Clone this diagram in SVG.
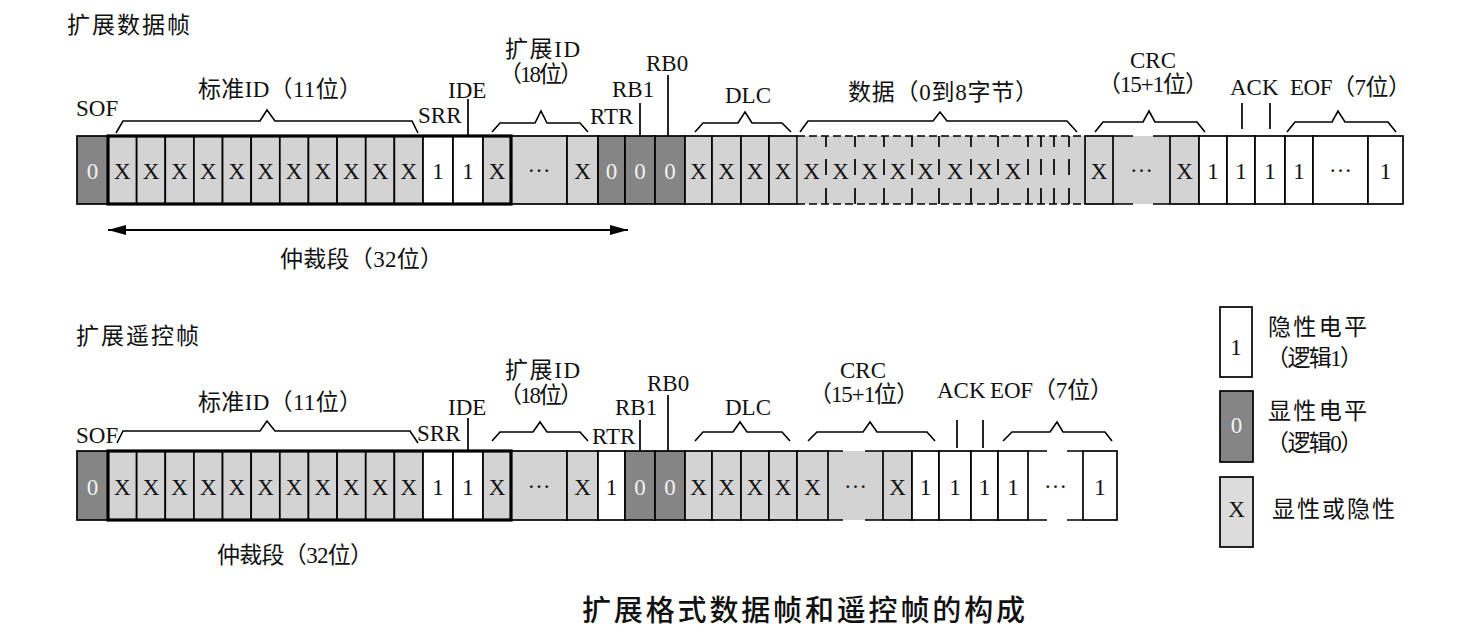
<svg xmlns="http://www.w3.org/2000/svg" width="1475" height="640" viewBox="0 0 1475 640">
<style>
.c{stroke:#000;stroke-width:1.7}
.w{fill:#fff}
.g{fill:#d3d3d3}
.d{fill:#858585}
.nf{stroke:none}
.t{font-family:"Liberation Serif","Noto Sans CJK SC",serif;font-size:23px;fill:#111}
.v{font-family:"Liberation Serif",serif;font-size:23px;fill:#111;text-anchor:middle}
.z{fill:#f2f2f2}
.br{fill:none;stroke:#000;stroke-width:1.6;stroke-linejoin:miter}
.pl{fill:none;stroke:#000;stroke-width:1.7}
.thick{fill:none;stroke:#000;stroke-width:3.2}
.dash{fill:none;stroke:#000;stroke-width:1.7;stroke-dasharray:8,4}
.h{font-family:"Noto Sans CJK SC",sans-serif;fill:#111}
</style>
<defs>
<marker id="ah" markerUnits="userSpaceOnUse" markerWidth="18" markerHeight="10" refX="18" refY="5" orient="auto-start-reverse">
<path d="M0,0 L18,5 L0,10 z" fill="#000"/>
</marker>
</defs>
<rect width="1475" height="640" fill="#fff"/>

<text class="h" x="67" y="33" font-size="23" textLength="123" lengthAdjust="spacing">扩展数据帧</text>
<text class="h" x="76" y="344" font-size="23" textLength="123" lengthAdjust="spacing">扩展遥控帧</text>

<!-- ================= TOP ROW ================= -->
<g id="top-sof"><rect class="c d" x="77" y="136" width="31" height="68"/><text class="v z" x="92.5" y="179">0</text></g>
<g id="top-stdid">
<rect class="c g" x="108" y="136" width="28.64" height="68"/>
<rect class="c g" x="136.64" y="136" width="28.64" height="68"/>
<rect class="c g" x="165.27" y="136" width="28.64" height="68"/>
<rect class="c g" x="193.91" y="136" width="28.64" height="68"/>
<rect class="c g" x="222.55" y="136" width="28.64" height="68"/>
<rect class="c g" x="251.18" y="136" width="28.64" height="68"/>
<rect class="c g" x="279.82" y="136" width="28.64" height="68"/>
<rect class="c g" x="308.45" y="136" width="28.64" height="68"/>
<rect class="c g" x="337.09" y="136" width="28.64" height="68"/>
<rect class="c g" x="365.73" y="136" width="28.64" height="68"/>
<rect class="c g" x="394.36" y="136" width="28.64" height="68"/>
<text class="v" y="179"><tspan x="122.3">X</tspan><tspan x="151">X</tspan><tspan x="179.6">X</tspan><tspan x="208.2">X</tspan><tspan x="236.9">X</tspan><tspan x="265.5">X</tspan><tspan x="294.1">X</tspan><tspan x="322.8">X</tspan><tspan x="351.4">X</tspan><tspan x="380">X</tspan><tspan x="408.7">X</tspan></text>
</g>
<g id="top-srr"><rect class="c w" x="423" y="136" width="30" height="68"/><text class="v" x="438" y="179">1</text></g>
<g id="top-ide"><rect class="c w" x="453" y="136" width="30" height="68"/><text class="v" x="468" y="179">1</text></g>
<g id="top-extid">
<rect class="c g" x="483" y="136" width="28" height="68"/>
<rect class="c g" x="511" y="136" width="56" height="68"/>
<rect class="c g" x="567" y="136" width="31" height="68"/>
<text class="v" x="497" y="179">X</text><text class="v" x="539" y="172">…</text><text class="v" x="582.5" y="179">X</text>
</g>
<g id="top-arb-frame"><rect class="thick" x="108" y="136" width="403" height="68"/></g>
<g id="top-rtr"><rect class="c d" x="598" y="136" width="27" height="68"/><text class="v z" x="611.5" y="179">0</text></g>
<g id="top-rb1"><rect class="c d" x="625" y="136" width="30" height="68"/><text class="v z" x="640" y="179">0</text></g>
<g id="top-rb0"><rect class="c d" x="655" y="136" width="30" height="68"/><text class="v z" x="670" y="179">0</text></g>
<g id="top-dlc">
<rect class="c g" x="685" y="136" width="27" height="68"/>
<rect class="c g" x="712" y="136" width="29" height="68"/>
<rect class="c g" x="741" y="136" width="28" height="68"/>
<rect class="c g" x="769" y="136" width="28" height="68"/>
<text class="v" y="179"><tspan x="698.5">X</tspan><tspan x="726.5">X</tspan><tspan x="755">X</tspan><tspan x="783">X</tspan></text>
</g>
<g id="top-data">
<rect class="g nf" x="797.8" y="136" width="286.4" height="68"/>
<path class="dash" d="M797,136 H1085 M797,204 H1085"/>
<path class="pl" d="M826,136 V147 M826,159 V175 M826,188 V204 M855,136 V147 M855,159 V175 M855,188 V204 M884,136 V147 M884,159 V175 M884,188 V204 M912,136 V147 M912,159 V175 M912,188 V204 M939,136 V147 M939,159 V175 M939,188 V204 M971,136 V147 M971,159 V175 M971,188 V204 M998,136 V147 M998,159 V175 M998,188 V204 M1028,136 V147 M1028,159 V175 M1028,188 V204 M1041,136 V147 M1041,159 V175 M1041,188 V204 M1054,136 V147 M1054,159 V175 M1054,188 V204 M1069,136 V147 M1069,159 V175 M1069,188 V204"/>
<text class="v" y="179"><tspan x="811.5">X</tspan><tspan x="840.5">X</tspan><tspan x="869.5">X</tspan><tspan x="898">X</tspan><tspan x="925.5">X</tspan><tspan x="955">X</tspan><tspan x="984.5">X</tspan><tspan x="1013">X</tspan></text>
</g>
<g id="top-crc">
<rect class="g nf" x="1113" y="136" width="57" height="68"/>
<rect class="c g" x="1085" y="136" width="28" height="68"/>
<rect class="c g" x="1170" y="136" width="29" height="68"/>
<path class="pl" d="M1113,136 H1133 M1153,136 H1170 M1113,204 H1133 M1153,204 H1170"/>
<text class="v" x="1099" y="179">X</text><text class="v" x="1141.5" y="172">…</text><text class="v" x="1184.5" y="179">X</text>
</g>
<g id="top-crcdel"><rect class="c w" x="1199" y="136" width="28" height="68"/><text class="v" x="1213" y="179">1</text></g>
<g id="top-ack"><rect class="c w" x="1227" y="136" width="28" height="68"/><text class="v" x="1241" y="179">1</text></g>
<g id="top-ackdel"><rect class="c w" x="1255" y="136" width="30" height="68"/><text class="v" x="1270" y="179">1</text></g>
<g id="top-eof">
<rect class="c w" x="1285" y="136" width="28" height="68"/>
<rect class="c w" x="1313" y="136" width="55" height="68"/>
<rect class="c w" x="1368" y="136" width="35" height="68"/>
<text class="v" x="1299" y="179">1</text><text class="v" x="1340.5" y="172">…</text><text class="v" x="1385.5" y="179">1</text>
</g>

<!-- ================= BOTTOM ROW ================= -->
<g id="bot-sof"><rect class="c d" x="77" y="451" width="31" height="69"/><text class="v z" x="92.5" y="495">0</text></g>
<g id="bot-stdid">
<rect class="c g" x="108" y="451" width="28.64" height="69"/>
<rect class="c g" x="136.64" y="451" width="28.64" height="69"/>
<rect class="c g" x="165.27" y="451" width="28.64" height="69"/>
<rect class="c g" x="193.91" y="451" width="28.64" height="69"/>
<rect class="c g" x="222.55" y="451" width="28.64" height="69"/>
<rect class="c g" x="251.18" y="451" width="28.64" height="69"/>
<rect class="c g" x="279.82" y="451" width="28.64" height="69"/>
<rect class="c g" x="308.45" y="451" width="28.64" height="69"/>
<rect class="c g" x="337.09" y="451" width="28.64" height="69"/>
<rect class="c g" x="365.73" y="451" width="28.64" height="69"/>
<rect class="c g" x="394.36" y="451" width="28.64" height="69"/>
<text class="v" y="495"><tspan x="122.3">X</tspan><tspan x="151">X</tspan><tspan x="179.6">X</tspan><tspan x="208.2">X</tspan><tspan x="236.9">X</tspan><tspan x="265.5">X</tspan><tspan x="294.1">X</tspan><tspan x="322.8">X</tspan><tspan x="351.4">X</tspan><tspan x="380">X</tspan><tspan x="408.7">X</tspan></text>
</g>
<g id="bot-srr"><rect class="c w" x="423" y="451" width="30" height="69"/><text class="v" x="438" y="495">1</text></g>
<g id="bot-ide"><rect class="c w" x="453" y="451" width="30" height="69"/><text class="v" x="468" y="495">1</text></g>
<g id="bot-extid">
<rect class="c g" x="483" y="451" width="28" height="69"/>
<rect class="c g" x="511" y="451" width="56" height="69"/>
<rect class="c g" x="567" y="451" width="31" height="69"/>
<text class="v" x="497" y="495">X</text><text class="v" x="539" y="488">…</text><text class="v" x="582.5" y="495">X</text>
</g>
<g id="bot-arb-frame"><rect class="thick" x="108" y="451" width="403" height="69"/></g>
<g id="bot-rtr"><rect class="c w" x="598" y="451" width="27" height="69"/><text class="v" x="611.5" y="495">1</text></g>
<g id="bot-rb1"><rect class="c d" x="625" y="451" width="30" height="69"/><text class="v z" x="640" y="495">0</text></g>
<g id="bot-rb0"><rect class="c d" x="655" y="451" width="30" height="69"/><text class="v z" x="670" y="495">0</text></g>
<g id="bot-dlc">
<rect class="c g" x="685" y="451" width="27" height="69"/>
<rect class="c g" x="712" y="451" width="29" height="69"/>
<rect class="c g" x="741" y="451" width="28" height="69"/>
<rect class="c g" x="769" y="451" width="28" height="69"/>
<text class="v" y="495"><tspan x="698.5">X</tspan><tspan x="726.5">X</tspan><tspan x="755">X</tspan><tspan x="783">X</tspan></text>
</g>
<g id="bot-crc">
<rect class="g nf" x="828" y="451" width="55" height="69"/>
<rect class="c g" x="797" y="451" width="31" height="69"/>
<rect class="c g" x="883" y="451" width="29" height="69"/>
<path class="pl" d="M828,451 H843 M865,451 H883 M828,520 H843 M865,520 H883"/>
<text class="v" x="812.5" y="495">X</text><text class="v" x="855.5" y="488">…</text><text class="v" x="897.5" y="495">X</text>
</g>
<g id="bot-crcdel"><rect class="c w" x="912" y="451" width="27" height="69"/><text class="v" x="925.5" y="495">1</text></g>
<g id="bot-ack"><rect class="c w" x="939" y="451" width="32" height="69"/><text class="v" x="955" y="495">1</text></g>
<g id="bot-ackdel"><rect class="c w" x="971" y="451" width="27" height="69"/><text class="v" x="984.5" y="495">1</text></g>
<g id="bot-eof">
<rect class="c w" x="998" y="451" width="30" height="69"/>
<rect class="c w" x="1083" y="451" width="34" height="69"/>
<path class="pl" d="M1028,451 H1047 M1067,451 H1083 M1028,520 H1047 M1067,520 H1083"/>
<text class="v" x="1013" y="495">1</text><text class="v" x="1055.5" y="488">…</text><text class="v" x="1100" y="495">1</text>
</g>

<!-- ================= LEGEND ================= -->
<g id="legend-recessive"><rect class="c w" x="1220" y="307" width="32" height="70"/><text class="v" x="1236" y="355">1</text>
<text class="t" x="1268" y="335" textLength="99" lengthAdjust="spacing">隐性电平</text>
<text class="t" x="1266" y="366" textLength="97" lengthAdjust="spacing">（逻辑1）</text></g>
<g id="legend-dominant"><rect class="c d" x="1220" y="391" width="33" height="71"/><text class="v z" x="1236.5" y="433">0</text>
<text class="t" x="1268" y="419" textLength="99" lengthAdjust="spacing">显性电平</text>
<text class="t" x="1266" y="451" textLength="97" lengthAdjust="spacing">（逻辑0）</text></g>
<g id="legend-either"><rect class="c" fill="#dcdcdc" x="1220" y="477" width="33" height="70"/><text class="v" x="1236.5" y="517">X</text>
<text class="t" x="1272" y="517" textLength="123" lengthAdjust="spacing">显性或隐性</text></g>

<!-- ================= LABELS ================= -->
<g id="labels-top">
<text class="t" x="76" y="116">SOF</text>
<text class="t" x="198" y="97" textLength="164" lengthAdjust="spacing">标准ID（11位）</text>
<text class="t" x="448" y="98">IDE</text>
<text class="t" x="418" y="123">SRR</text>
<text class="t" x="505" y="57" textLength="75" lengthAdjust="spacing">扩展ID</text>
<text class="t" x="499" y="82" textLength="84" lengthAdjust="spacing">（18位）</text>
<text class="t" x="646" y="71">RB0</text>
<text class="t" x="612" y="97">RB1</text>
<text class="t" x="590" y="124">RTR</text>
<text class="t" x="725" y="103">DLC</text>
<text class="t" x="848" y="100" textLength="190" lengthAdjust="spacing">数据（0到8字节）</text>
<text class="t" x="1130" y="68">CRC</text>
<text class="t" x="1098" y="92" textLength="110" lengthAdjust="spacing">（15+1位）</text>
<text class="t" x="1230" y="95">ACK</text>
<text class="t" x="1290" y="95" textLength="121" lengthAdjust="spacing">EOF（7位）</text>
<text class="t" x="280" y="267" textLength="163" lengthAdjust="spacing">仲裁段（32位）</text>
</g>
<g id="labels-bottom">
<text class="t" x="76" y="443">SOF</text>
<text class="t" x="198" y="410" textLength="164" lengthAdjust="spacing">标准ID（11位）</text>
<text class="t" x="417" y="441">SRR</text>
<text class="t" x="448" y="415">IDE</text>
<text class="t" x="505" y="378" textLength="75" lengthAdjust="spacing">扩展ID</text>
<text class="t" x="499" y="403" textLength="84" lengthAdjust="spacing">（18位）</text>
<text class="t" x="647" y="391">RB0</text>
<text class="t" x="615" y="415">RB1</text>
<text class="t" x="592" y="444">RTR</text>
<text class="t" x="725" y="415">DLC</text>
<text class="t" x="840" y="378">CRC</text>
<text class="t" x="809" y="402" textLength="110" lengthAdjust="spacing">（15+1位）</text>
<text class="t" x="937" y="398">ACK</text>
<text class="t" x="990" y="398" textLength="123" lengthAdjust="spacing">EOF（7位）</text>
<text class="t" x="217" y="563" textLength="156" lengthAdjust="spacing">仲裁段（32位）</text>
</g>

<!-- ================= CONNECTORS ================= -->
<g id="connectors">
<path class="br" d="M116,133 L123,121 L260,121 L267,110 L275,121 L412,121 L418,133"/>
<path class="br" d="M492,132 L500,123 L535,123 L541,111 L547,123 L580,123 L588,132"/>
<path class="br" d="M695,132 L703,123 L738,123 L745,112 L752,123 L782,123 L791,132"/>
<path class="br" d="M800,132 L808,121 L933,121 L940,112 L947,121 L1067,121 L1077,132"/>
<path class="br" d="M1095,132 L1103,122 L1143,122 L1149,111 L1155,122 L1197,122 L1205,132"/>
<path class="br" d="M1287,132 L1295,122 L1332,122 L1338,111 L1345,122 L1388,122 L1396,132"/>
<path class="pl" d="M468,99 V136 M640,103 V136 M668,75 V136 M1242,103 V129 M1270,103 V129"/>
<line x1="108" y1="230" x2="628" y2="230" stroke="#000" stroke-width="2" marker-start="url(#ah)" marker-end="url(#ah)"/>

<path class="br" d="M117,443 L123,431 L260,431 L267,421 L275,431 L410,431 L418,443"/>
<path class="br" d="M492,441 L500,432 L533,432 L540,422 L547,432 L580,432 L588,441"/>
<path class="br" d="M695,441 L703,432 L733,432 L740,422 L747,432 L782,432 L790,441"/>
<path class="br" d="M808,441 L817,432 L863,432 L870,422 L877,432 L927,432 L935,441"/>
<path class="br" d="M1003,441 L1012,432 L1050,432 L1057,422 L1063,432 L1105,432 L1112,441"/>
<path class="pl" d="M468,418 V451 M640,420 V451 M668,395 V451 M957,420 V448 M983,420 V448"/>
</g>

<text class="h" x="582" y="621" font-size="29" font-weight="500" textLength="443" lengthAdjust="spacing">扩展格式数据帧和遥控帧的构成</text>
</svg>
